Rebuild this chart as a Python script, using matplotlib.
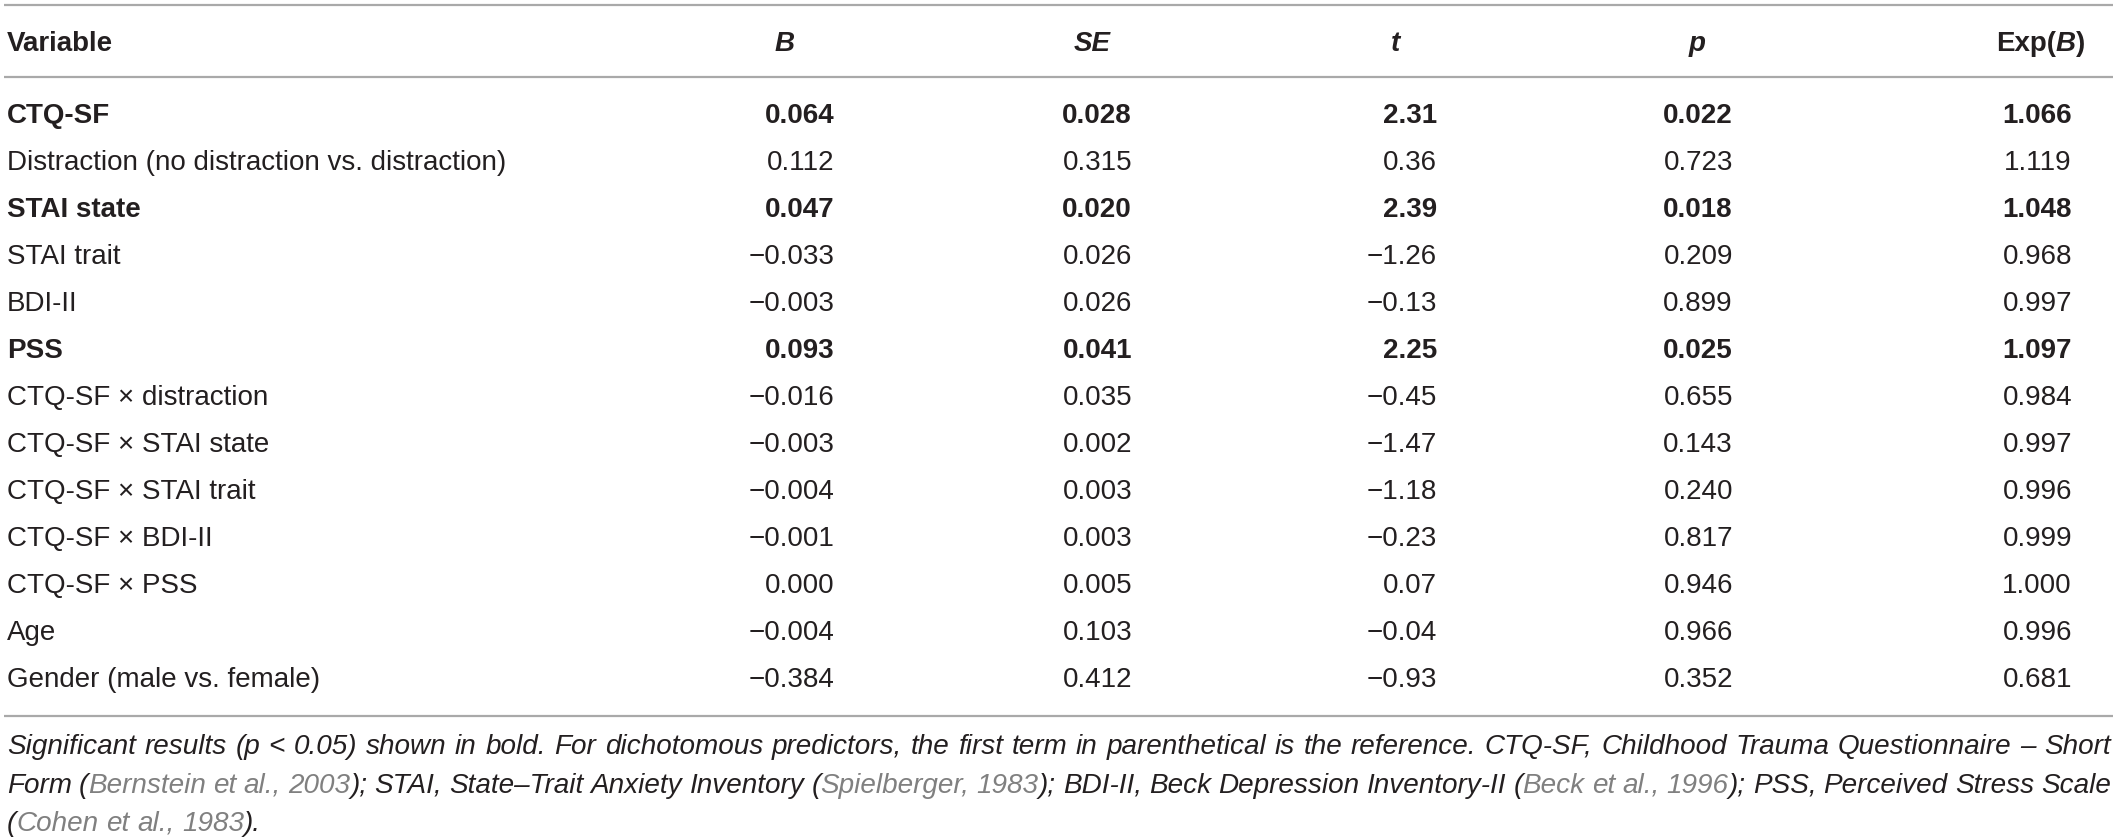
import matplotlib
matplotlib.use("Agg")
import matplotlib.pyplot as plt

# ---------------- data ----------------
variables = [
    "CTQ-SF",
    "Distraction (no distraction vs. distraction)",
    "STAI state",
    "STAI trait",
    "BDI-II",
    "PSS",
    "CTQ-SF \u00d7 distraction",
    "CTQ-SF \u00d7 STAI state",
    "CTQ-SF \u00d7 STAI trait",
    "CTQ-SF \u00d7 BDI-II",
    "CTQ-SF \u00d7 PSS",
    "Age",
    "Gender (male vs. female)",
]
B_vals = [0.064, 0.112, 0.047, -0.033, -0.003, 0.093, -0.016, -0.003, -0.004, -0.001, 0.000, -0.004, -0.384]
SE_vals = [0.028, 0.315, 0.020, 0.026, 0.026, 0.041, 0.035, 0.002, 0.003, 0.003, 0.005, 0.103, 0.412]
t_vals = [2.31, 0.36, 2.39, -1.26, -0.13, 2.25, -0.45, -1.47, -1.18, -0.23, 0.07, -0.04, -0.93]
p_vals = [0.022, 0.723, 0.018, 0.209, 0.899, 0.025, 0.655, 0.143, 0.240, 0.817, 0.946, 0.966, 0.352]
expB_vals = [1.066, 1.119, 1.048, 0.968, 0.997, 1.097, 0.984, 0.997, 0.996, 0.999, 1.000, 0.996, 0.681]
decimals = [3, 3, 2, 3, 3]

TEXT = "#231f20"
GRAY = "#808080"
RULE = "#a9a9a9"

footnote_lines = [
    [("Significant results (p < 0.05) shown in bold. For dichotomous predictors, the first term in parenthetical is the reference. CTQ-SF, Childhood Trauma Questionnaire \u2013 Short", TEXT)],
    [("Form (", TEXT), ("Bernstein et al., 2003", GRAY), ("); STAI, State\u2013Trait Anxiety Inventory (", TEXT),
     ("Spielberger, 1983", GRAY), ("); BDI-II, Beck Depression Inventory-II (", TEXT), ("Beck et al., 1996", GRAY),
     ("); PSS, Perceived Stress Scale", TEXT)],
    [("(", TEXT), ("Cohen et al., 1983", GRAY), (").", TEXT)],
]

# ---------------- layout ----------------
W, H = 2118, 839
plt.rcParams["font.family"] = ["Liberation Sans", "DejaVu Sans"]
fig = plt.figure(figsize=(W / 100, H / 100), dpi=100)
ax = fig.add_axes([0, 0, 1, 1])
ax.set_xlim(0, W)
ax.set_ylim(H, 0)
ax.axis("off")
renderer = fig.canvas.get_renderer()

FS = 20
CAP = 10  # half cap height in px, for baseline placement

def fmt(v, d):
    s = f"{abs(v):.{d}f}"
    return ("\u2212" + s) if v < 0 else s

# rules
for y in (5, 77, 716):
    ax.plot([4, 2113], [y, y], color=RULE, lw=1.6, solid_capstyle="butt")

# header
hy = 41 + CAP
ax.text(7, hy, "Variable", fontsize=FS, fontweight="bold", color=TEXT, va="baseline", ha="left")
for label, cx in (("B", 785), ("SE", 1092), ("t", 1395), ("p", 1697)):
    ax.text(cx, hy, label, fontsize=FS, fontweight="bold", style="italic", color=TEXT, va="baseline", ha="center")

# Exp(B) header built from pieces, right aligned at 2085
pieces = [("Exp(", "normal"), ("B", "italic"), (")", "normal")]
widths = []
for txt, st in pieces:
    tt = ax.text(0, 0, txt, fontsize=FS, fontweight="bold", style=st)
    widths.append(tt.get_window_extent(renderer).width)
    tt.remove()
x = 2085 - sum(widths)
for (txt, st), w in zip(pieces, widths):
    ax.text(x, hy, txt, fontsize=FS, fontweight="bold", style=st, color=TEXT, va="baseline", ha="left")
    x += w

# body
col_right = [834, 1132, 1437, 1733, 2072]
row0, dy = 113, 47.0
for i, name in enumerate(variables):
    y = row0 + i * dy + CAP
    bold = p_vals[i] < 0.05
    fw = "bold" if bold else "normal"
    ax.text(7, y, name, fontsize=FS, fontweight=fw, color=TEXT, va="baseline", ha="left")
    vals = [B_vals[i], SE_vals[i], t_vals[i], p_vals[i], expB_vals[i]]
    for v, d, xr in zip(vals, decimals, col_right):
        ax.text(xr, y, fmt(v, d), fontsize=FS, fontweight=fw, color=TEXT, va="baseline", ha="right")

# footnote (justified for the first two lines)
def measure(txt, fs):
    tt = ax.text(0, 0, txt, fontsize=fs, style="italic")
    w = tt.get_window_extent(renderer).width
    tt.remove()
    return w

x0, x1 = 7, 2111
# choose footnote size so that the first line naturally almost fills the width
base_fs = 18.0
nat = measure("".join(t for t, _ in footnote_lines[0]), base_fs)
FFS = base_fs * 0.988 * (x1 - x0) / nat

space_w = measure("a a", FFS) - measure("aa", FFS)
foot_y = [745, 784, 822]
for li, segs in enumerate(footnote_lines):
    words = [[]]
    for txt, col in segs:
        parts = txt.split(" ")
        for k, part in enumerate(parts):
            if k > 0:
                words.append([])
            if part:
                words[-1].append((part, col))
    words = [w for w in words if w]
    wwidths = [[measure(p, FFS) for p, _ in w] for w in words]
    total = sum(sum(ws) for ws in wwidths)
    n = len(words)
    if li < 2 and n > 1:
        gap = (x1 - x0 - total) / (n - 1)
    else:
        gap = space_w
    x = x0
    yb = foot_y[li] + 9
    for w, ws in zip(words, wwidths):
        for (p, col), pw in zip(w, ws):
            ax.text(x, yb, p, fontsize=FFS, style="italic", color=col, va="baseline", ha="left")
            x += pw
        x += gap

fig.savefig("out.png", dpi=100, facecolor="white")
